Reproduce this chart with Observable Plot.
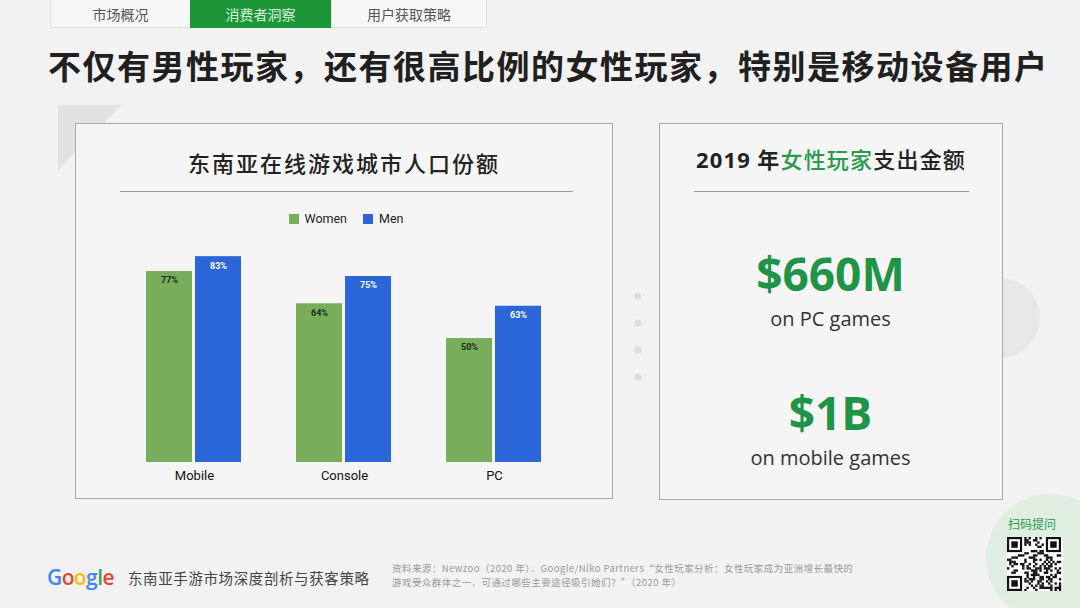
<!DOCTYPE html>
<html><head><meta charset="utf-8">
<script src="https://cdn.jsdelivr.net/npm/d3@7"></script>
<script src="https://cdn.jsdelivr.net/npm/@observablehq/plot@0.6"></script>
<style>
html,body{margin:0;padding:0;}
body{width:1080px;height:608px;position:relative;overflow:hidden;background:#f2f2f2;font-family:"Noto Sans CJK SC","Noto Sans",sans-serif;}
.abs{position:absolute;}
.tab{position:absolute;top:0;height:28px;line-height:28px;text-align:center;font-size:14px;color:#555;background:#f7f7f7;border:1px solid #e0e0e0;border-top:none;box-sizing:border-box;}
.panel{position:absolute;background:#f5f5f5;border:1.5px solid #a9a9a9;box-sizing:border-box;}
.rule{position:absolute;height:1px;background:#9a9a9a;}
.big{position:absolute;width:343px;text-align:center;font-family:"Open Sans","Noto Sans",sans-serif;font-weight:700;color:#1f9447;font-size:46px;line-height:1;}
.sub{position:absolute;width:343px;text-align:center;font-family:"Open Sans","Noto Sans",sans-serif;color:#333;font-size:20px;line-height:1;}
.src{position:absolute;left:392px;font-size:9.5px;color:#9a9a9a;line-height:14px;white-space:nowrap;letter-spacing:0.45px;}
</style></head>
<body>
<!-- decorative background -->
<svg class="abs" style="left:0;top:0" width="1080" height="608">
  <polygon points="58,105 122,105 76,151 58,170" fill="#e2e2e2"/>
  <circle cx="1000" cy="318" r="40" fill="#e7e7e7"/>
  <circle cx="638" cy="296" r="3.5" fill="#dcdcdc"/>
  <circle cx="638" cy="323" r="3.5" fill="#dcdcdc"/>
  <circle cx="638" cy="350" r="3.5" fill="#dcdcdc"/>
  <circle cx="638" cy="377" r="3.5" fill="#dcdcdc"/>
  <circle cx="1050" cy="558" r="64" fill="#e0eee2"/>
</svg>

<div class="tab" style="left:50px;width:141px;">市场概况</div>
<div class="tab" style="left:190px;width:141px;background:#1d9638;color:#d8f0d8;border-color:#1d9638;">消费者洞察</div>
<div class="tab" style="left:331px;width:156px;">用户获取策略</div>

<div class="abs" style="left:48px;top:44px;font-size:33px;font-weight:700;color:#202020;letter-spacing:1.5px;white-space:nowrap;line-height:42px;">不仅有男性玩家，还有很高比例的女性玩家，特别是移动设备用户</div>

<div class="panel" style="left:75px;top:123px;width:538px;height:376px;"></div>
<div class="abs" style="left:75px;top:146px;width:538px;text-align:center;font-size:22px;color:#222;letter-spacing:2px;line-height:32px;font-weight:500;">东南亚在线游戏城市人口份额</div>
<div class="rule" style="left:120px;top:191px;width:453px;"></div>
<div id="legend" class="abs" style="left:85px;top:210px;width:538px;text-align:center;font-family:Roboto,sans-serif;font-size:12.5px;color:#222;line-height:18px;"></div>
<div id="chart" class="abs" style="left:95px;top:200px;"></div>

<div class="panel" style="left:659px;top:123px;width:344px;height:377px;"></div>
<div class="abs" style="left:659px;top:142px;width:344px;text-align:center;font-size:22px;font-weight:700;color:#222;line-height:32px;letter-spacing:1.2px;"><span style="font-family:'Open Sans','Noto Sans',sans-serif;">2019</span> 年<span style="color:#2a9a4e;font-weight:500;">女性玩家</span><span style="font-weight:500;">支出金额</span></div>
<div class="rule" style="left:694px;top:191px;width:275px;"></div>
<div id="stats"></div>

<!-- footer -->
<div class="abs" style="left:47px;top:563px;font-family:'Open Sans',sans-serif;font-weight:600;font-size:21px;letter-spacing:-0.6px;line-height:28px;"><span style="color:#4285F4">G</span><span style="color:#EA4335">o</span><span style="color:#FBBC05">o</span><span style="color:#4285F4">g</span><span style="color:#34A853">l</span><span style="color:#EA4335">e</span></div>
<div class="abs" style="left:128px;top:568px;font-size:14.5px;color:#444;line-height:20px;letter-spacing:0.6px;">东南亚手游市场深度剖析与获客策略</div>
<div class="src" style="top:561px;">资料来源：Newzoo（2020 年）．Google/Niko Partners“女性玩家分析：女性玩家成为亚洲增长最快的</div>
<div class="src" style="top:575px;">游戏受众群体之一．可通过哪些主要途径吸引她们？”（2020 年）</div>

<div class="abs" style="left:1008px;top:515px;font-size:12px;color:#2a9a4e;line-height:18px;">扫码提问</div>
<svg id="qr" class="abs" style="left:1007px;top:537px;" width="56" height="54"></svg>

<script>
// ---- data ----
const categories = ["Mobile", "Console", "PC"];
const genders = ["Women", "Men"];
const womenShare = [77, 64, 50];
const menShare = [83, 75, 63];
const genderColors = ["#78ad5c", "#2b66d8"];
const statValues = ["$660M", "$1B"];
const statLabels = ["on PC games", "on mobile games"];

const data = categories.flatMap((c, i) => [
  {category: c, gender: "Women", value: womenShare[i]},
  {category: c, gender: "Men", value: menShare[i]}
]);

// legend
document.getElementById("legend").innerHTML = genders.map((g, i) =>
  `<span style="display:inline-block;width:10px;height:10px;background:${genderColors[i]};vertical-align:-1px;margin-right:6px;"></span><span style="margin-right:16px">${g}</span>`
).join("");

const chart = Plot.plot({
  width: 500,
  height: 300,
  marginLeft: 50,
  marginRight: 53,
  marginTop: 14,
  marginBottom: 38,
  style: {background: "transparent", fontFamily: "Roboto, 'Noto Sans', sans-serif", fontSize: "13px", color: "#111"},
  fx: {domain: categories, paddingInner: 0.36, paddingOuter: 0, label: null, axis: "bottom", tickSize: 0, tickPadding: 8},
  x: {domain: genders, paddingInner: 0.06, paddingOuter: 0, axis: null},
  y: {domain: [0, 100], axis: null},
  color: {domain: genders, range: genderColors},
  marks: [
    Plot.barY(data, {fx: "category", x: "gender", y: "value", fill: "gender"}),
    Plot.text(data.filter(d => d.gender === "Women"), {fx: "category", x: "gender", y: "value", text: d => d.value + "%", dy: 9, fill: "#1b2a12", fontSize: 9, fontWeight: "bold"}),
    Plot.text(data.filter(d => d.gender === "Men"), {fx: "category", x: "gender", y: "value", text: d => d.value + "%", dy: 9, fill: "#ffffff", fontSize: 9, fontWeight: "bold"})
  ]
});
document.getElementById("chart").appendChild(chart);

// right-hand stats
const statTops = [250, 389];
document.getElementById("stats").innerHTML = statValues.map((v, i) =>
  `<div class="big" style="left:659px;top:${statTops[i]}px;">${v}</div>
   <div class="sub" style="left:659px;top:${statTops[i] + 59}px;">${statLabels[i]}</div>`
).join("");

// decorative QR-like pattern (deterministic)
(function(){
  const svg = document.getElementById("qr");
  const n = 25, s = 54 / n;
  let out = `<rect width="56" height="54" fill="#ffffff"/>`;
  const finder = (cx, cy) => {
    out += `<rect x="${cx*s}" y="${cy*s}" width="${7*s}" height="${7*s}" fill="#111"/>`;
    out += `<rect x="${(cx+1)*s}" y="${(cy+1)*s}" width="${5*s}" height="${5*s}" fill="#fff"/>`;
    out += `<rect x="${(cx+2)*s}" y="${(cy+2)*s}" width="${3*s}" height="${3*s}" fill="#111"/>`;
  };
  for (let r = 0; r < n; r++) for (let c = 0; c < n; c++) {
    if ((r < 8 && c < 8) || (r < 8 && c > n - 9) || (r > n - 9 && c < 8)) continue;
    const h = ((r * 31 + c * 17 + r * c * 7) ^ (r * 13)) % 5;
    if (h < 2) out += `<rect x="${c*s}" y="${r*s}" width="${s+0.2}" height="${s+0.2}" fill="#111"/>`;
  }
  finder(0, 0); finder(n - 7, 0); finder(0, n - 7);
  svg.innerHTML = out;
})();
</script>
</body></html>
